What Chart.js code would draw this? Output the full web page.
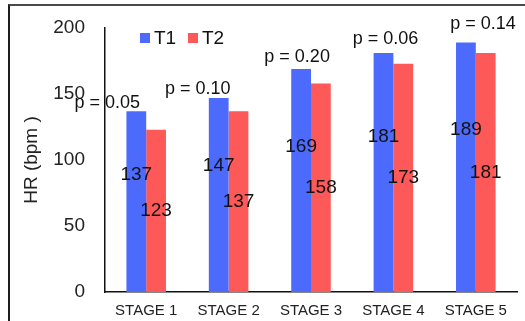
<!DOCTYPE html>
<html>
<head>
<meta charset="utf-8">
<script src="https://cdn.jsdelivr.net/npm/chart.js@4/dist/chart.umd.min.js"></script>
<style>
  html, body { margin: 0; padding: 0; background: #fff; }
  #wrap { position: relative; width: 525px; height: 321px; overflow: hidden; }
  #frame { position: absolute; left: 8px; top: 4px; width: 600px; height: 400px;
           border-top: 2px solid #4a4a4a; border-left: 2px solid #1e1e1e; }
  canvas { position: absolute; left: 0; top: 0; }
</style>
</head>
<body>
<div id="wrap">
  <div id="frame"></div>
  <canvas id="myChart" width="525" height="321"></canvas>
</div>
<script>
// data
const stages = ["STAGE 1", "STAGE 2", "STAGE 3", "STAGE 4", "STAGE 5"];
const t1 = [137, 147, 169, 181, 189];
const t2 = [123, 137, 158, 173, 181];
const pValues = ["p = 0.05", "p = 0.10", "p = 0.20", "p = 0.06", "p = 0.14"];
const yTicks = [0, 50, 100, 150, 200];

// where the labels sit (layout only)
const labelFrac = [0.65, 0.5];          // T1 / T2 value labels, fraction of bar height
const pDx = [-29, -21, -4, 2, 17];      // p label shift from the T1 bar centre
const pDy = [-8, -9, -12, -14, -18];    // p label shift above the T1 bar top

const FONT = "'Liberation Sans', Arial, sans-serif";
const blue = "#4c6bfc";
const red = "#fe5959";

const labelsPlugin = {
    id: "labels",
    afterDatasetsDraw(chart){
        const ctx = chart.ctx;
        const y = chart.scales.y;
        ctx.save();
        ctx.fillStyle = "#111";
        ctx.textAlign = "center";
        ctx.textBaseline = "middle";
        ctx.font = "19px " + FONT;
        chart.data.datasets.forEach((ds, i) => {
            const meta = chart.getDatasetMeta(i);
            meta.data.forEach((bar, j) => {
                ctx.fillText(String(ds.data[j]), bar.x, y.getPixelForValue(ds.data[j] * labelFrac[i]));
            });
        });
        // p values
        ctx.font = "18px " + FONT;
        const m1 = chart.getDatasetMeta(0);
        m1.data.forEach((bar, j) => {
            ctx.fillText(pValues[j], bar.x + pDx[j], bar.y + pDy[j]);
        });
        // legend
        ctx.font = "19px " + FONT;
        ctx.textAlign = "left";
        const ly = 38;
        const items = [[140, blue, "T1"], [188, red, "T2"]];
        items.forEach(it => {
            ctx.fillStyle = it[1];
            ctx.fillRect(it[0], ly - 5, 10, 10);
            ctx.fillStyle = "#111";
            ctx.fillText(it[2], it[0] + 14, ly + 1);
        });
        ctx.restore();
    }
};

const ctx = document.getElementById("myChart");
const myChart = new Chart(ctx, {
    type: "bar",
    data: {
        labels: stages,
        datasets: [
            { label: "T1", data: t1, backgroundColor: blue },
            { label: "T2", data: t2, backgroundColor: red }
        ]
    },
    options: {
        responsive: false,
        animation: false,
        devicePixelRatio: 1,
        layout: { padding: { left: 0, right: 8, top: 28, bottom: 0 } },
        plugins: { legend: { display: false }, tooltip: { enabled: false } },
        datasets: { bar: { categoryPercentage: 0.48, barPercentage: 1 } },
        scales: {
            x: {
                grid: { display: false, drawTicks: false },
                border: { display: true, color: "#111", width: 1.5 },
                ticks: { color: "#222", padding: 10, font: { family: FONT, size: 15 } },
                afterFit(scale){ scale.height = 29; }
            },
            y: {
                min: 0, max: 200,
                afterBuildTicks(scale){ scale.ticks = yTicks.map(v => ({ value: v })); },
                // tick marks are hidden, their length only pushes the labels off the axis
                grid: { display: false, drawTicks: true, tickLength: 20 },
                border: { display: true, color: "#111", width: 1.5 },
                ticks: { color: "#222", padding: 0, font: { family: FONT, size: 19 } },
                title: { display: true, text: "HR (bpm )", color: "#222", padding: { top: 20 },
                         font: { family: FONT, size: 19 } },
                afterFit(scale){ scale.width = 105; }
            }
        }
    },
    plugins: [labelsPlugin]
});
</script>
</body>
</html>
